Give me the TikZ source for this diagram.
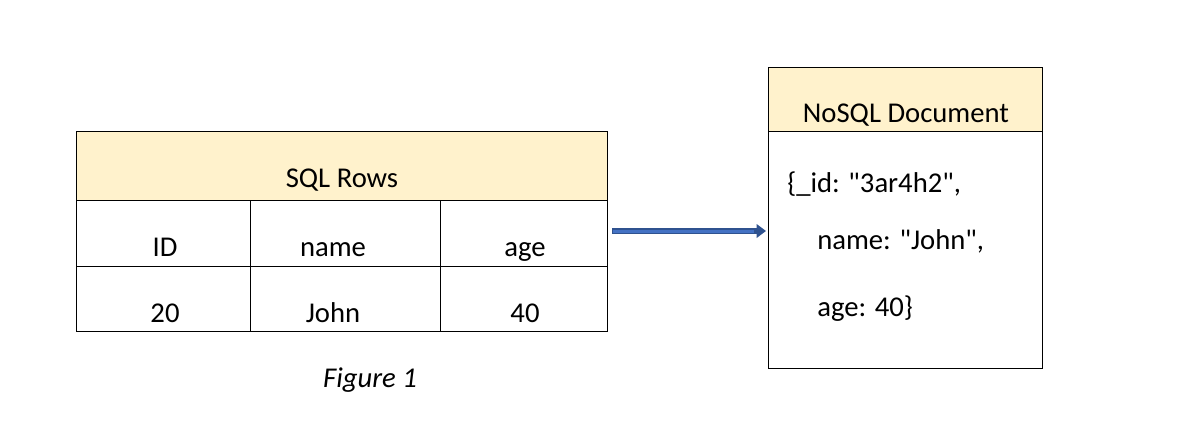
\documentclass[tikz,border=0pt]{standalone}
\usepackage{fontspec}
\setmainfont{Carlito}[Ligatures=TeXOff]
\usetikzlibrary{arrows.meta}
\definecolor{hdr}{HTML}{FFF2CC}
\definecolor{arrD}{HTML}{2F528F}
\definecolor{arrL}{HTML}{4472C4}
\begin{document}
\begin{tikzpicture}[x=0.75pt,y=-0.75pt,
  txt/.style={font=\fontsize{21.5}{24}\selectfont, inner sep=0pt, anchor=base},
  box/.style={draw=black, line width=0.6pt}]
\useasboundingbox (0,0) rectangle (1198,437);
% table
\fill[hdr] (76,131) rectangle (607,200);
\draw[box] (76,131) rectangle (607,331);
\draw[box] (76,200) -- (607,200) (76,266) -- (607,266);
\draw[box] (250,200) -- (250,331) (440,200) -- (440,331);
\node[txt] (sqlh) at (342,187) {SQL Rows};
\node[txt] (cid) at (165,256) {ID};
\node[txt] (cname) at (333,256) {name};
\node[txt] (cage) at (525,256) {age};
\node[txt] (v1) at (165,322) {20};
\node[txt] (v2) at (333,322) {John};
\node[txt] (v3) at (525,322) {40};
% document
\fill[hdr] (768,67) rectangle (1042,131);
\draw[box] (768,67) rectangle (1042,368);
\draw[box] (768,131) -- (1042,131);
\node[txt] (doch) at (906,122) {NoSQL Document};
\node[txt, anchor=base west] (l1) at (787,192) {\{\_id: "3ar4h2",};
\node[txt, anchor=base west] (l2) at (817,249) {name: "John",};
\node[txt, anchor=base west] (l3) at (817,316) {age: 40\}};
% arrow
\coordinate (as) at (612,231);
\coordinate (ae) at (766,231);
\draw[arrD, line width=6.5pt*0.75, -{Triangle[length=7pt,width=10pt]}] (as) -- (ae);
\draw[arrL, line width=3pt*0.75] (613,231) -- (754,231);
\node[txt, font=\fontsize{21.5}{24}\selectfont\itshape] (fig) at (370,387) {Figure 1};
\end{tikzpicture}
\end{document}
